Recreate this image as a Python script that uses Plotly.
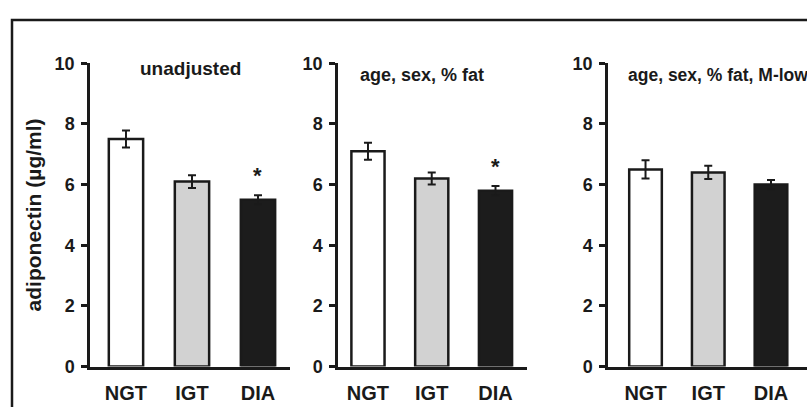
import plotly.graph_objects as go

# Adiponectin by glucose tolerance group, under three adjustment models
groups = ["NGT", "IGT", "DIA"]
panel_titles = ["unadjusted", "age, sex, % fat", "age, sex, % fat, M-low"]
means = [
    [7.5, 6.1, 5.5],
    [7.1, 6.2, 5.8],
    [6.5, 6.4, 6.0],
]
sems = [
    [0.28, 0.21, 0.15],
    [0.28, 0.20, 0.15],
    [0.30, 0.22, 0.15],
]
# significance marks placed above each bar (empty = none)
marks = [
    ["", "", "*"],
    ["", "", "*"],
    ["", "", ""],
]
y_ticks = [0, 2, 4, 6, 8, 10]

W, H = 807, 407
FONT = "Liberation Sans, Arial, sans-serif"
INK = "#1a1a1a"
bar_colors = ["#ffffff", "#d2d2d2", "#1c1c1c"]

# pixel layout of each panel: (axis left, axis right, x range)
panels = [
    (90, 290, [-0.545, 2.485]),
    (338, 527, [-0.47, 2.494]),
    (608, 807, [-0.598, 2.574]),
]
y_bottom_px, y_top_px = 375, 56
title_pos = [(138, 61, 19), (358, 68, 18), (626, 68, 17.5)]


def px_x(px):
    return px / W


def px_y(py):
    return 1 - py / H


fig = go.Figure()
layout = dict(
    width=W, height=H,
    margin=dict(l=0, r=0, t=0, b=0),
    paper_bgcolor="white", plot_bgcolor="white",
    showlegend=False,
    font=dict(family=FONT, color=INK),
)
annotations = []

for i, (left, right, xr) in enumerate(panels):
    n = i + 1
    xa = "x" if n == 1 else f"x{n}"
    ya = "y" if n == 1 else f"y{n}"
    fig.add_trace(go.Bar(
        x=list(range(len(groups))), y=means[i],
        width=0.52,
        marker=dict(color=bar_colors, line=dict(color=INK, width=2.5)),
        error_y=dict(type="data", array=sems[i], visible=True,
                     color=INK, thickness=2, width=4),
        xaxis=xa, yaxis=ya, hoverinfo="skip",
    ))
    layout["xaxis" if n == 1 else f"xaxis{n}"] = dict(
        domain=[px_x(left), min(1.0, px_x(right))],
        range=xr,
        anchor=ya,
        tickmode="array", tickvals=list(range(len(groups))), ticktext=groups,
        ticks="", showgrid=False, zeroline=False,
        showline=True, linecolor=INK, linewidth=2.5,
        tickfont=dict(family=FONT, size=20, color=INK, weight="bold"),
        ticklabelstandoff=7,
        fixedrange=True,
    )
    layout["yaxis" if n == 1 else f"yaxis{n}"] = dict(
        domain=[px_y(y_bottom_px), px_y(y_top_px)],
        range=[0, 10],
        anchor=xa,
        tickmode="array", tickvals=y_ticks,
        ticks="outside", ticklen=6, tickwidth=2.5, tickcolor=INK,
        showgrid=False, zeroline=False,
        showline=True, linecolor=INK, linewidth=2.5,
        tickfont=dict(family=FONT, size=18, color=INK, weight="bold"),
        ticklabelstandoff=3,
        fixedrange=True,
    )
    # panel heading
    tx, ty, ts = title_pos[i]
    annotations.append(dict(
        text=panel_titles[i], xref="paper", yref="paper",
        x=px_x(tx), y=px_y(ty), xanchor="left", yanchor="middle",
        showarrow=False,
        font=dict(family=FONT, size=ts, color=INK, weight="bold"),
    ))
    # significance asterisks
    for j, m in enumerate(marks[i]):
        if m:
            annotations.append(dict(
                text=m, xref=xa, yref=ya, x=j, y=means[i][j] + sems[i][j] + 0.65,
                xanchor="center", yanchor="middle", showarrow=False,
                font=dict(family=FONT, size=22, color=INK, weight="bold"),
            ))

# shared y-axis title
annotations.append(dict(
    text="adiponectin (µg/ml)", xref="paper", yref="paper",
    x=px_x(33), y=px_y(216), xanchor="center", yanchor="middle",
    textangle=-90, showarrow=False,
    font=dict(family=FONT, size=21, color=INK, weight="bold"),
))

layout["annotations"] = annotations
# figure frame along the top and left edges
layout["shapes"] = [dict(
    type="path", xref="paper", yref="paper",
    path=f"M {px_x(12)},{px_y(420)} L {px_x(12)},{px_y(10.5)} L {px_x(820)},{px_y(10.5)}",
    line=dict(color=INK, width=2.5),
)]

fig.update_layout(**layout)
fig.write_html("out.html")
